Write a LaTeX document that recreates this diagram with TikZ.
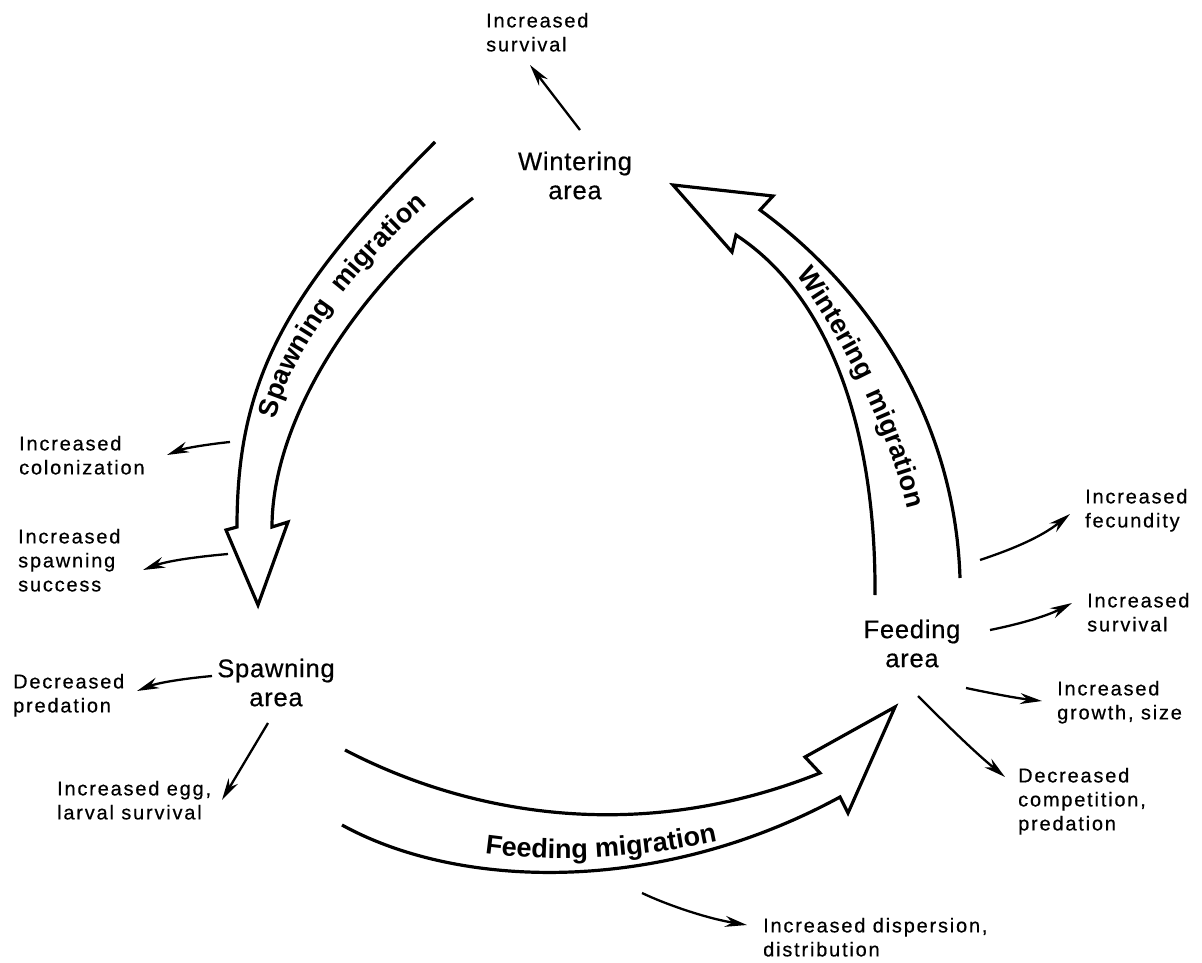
\documentclass[tikz,border=0pt]{standalone}
\usepackage{fontspec}
\setmainfont{Liberation Sans}
\newfontfamily\lblfont{Liberation Sans}[LetterSpace=9,FakeBold=0.5]
\newfontfamily\areafont{Liberation Sans}[LetterSpace=3,FakeBold=0.5]
\newfontfamily\migfont{Liberation Sans}
\newcommand\migstyle{\migfont\bfseries\fontsize{27}{27}\selectfont}
\usetikzlibrary{arrows.meta,decorations.text}
\tikzset{
  lbl/.style={font=\lblfont\fontsize{20}{24}\selectfont, align=left, inner sep=0pt, anchor=north west},
  area/.style={font=\areafont\fontsize{25.5}{29}\selectfont, align=center, inner sep=0pt, anchor=north},
  bigarrow/.style={line width=3.2pt, line join=miter, miter limit=20},
  effect/.style={line width=2.3pt, -{Stealth[length=22pt,width=11pt]}}
}
\begin{document}
\begin{tikzpicture}[x=1pt,y=-1pt]
\useasboundingbox (0,0) rectangle (1202,963);
\fill[white] (0,0) rectangle (1202,963);

% area labels
\node[area] (wa) at (575,151.5) {Wintering\\area};
\node[area] (sa) at (276,658.5) {Spawning\\area};
\node[area] (fa) at (912,619.5) {Feeding\\area};

% effect labels
\node[lbl] (tSurvTop) at (486,12.7) {Increased\\survival};
\node[lbl] (tCol) at (19,435.7) {Increased\\colonization};
\node[lbl] (tSucc) at (18,528.7) {Increased\\spawning\\success};
\node[lbl] (tPred) at (13,673.7) {Decreased\\predation};
\node[lbl] (tEgg) at (57,780.7) {Increased egg,\\larval survival};
\node[lbl] (tDisp) at (763,917.7) {Increased dispersion,\\distribution};
\node[lbl] (tFec) at (1085,488.7) {Increased\\fecundity};
\node[lbl] (tSurv) at (1087,592.7) {Increased\\survival};
\node[lbl] (tGrow) at (1057,680.7) {Increased\\growth, size};
\node[lbl] (tComp) at (1018,767.7) {Decreased\\competition,\\predation};

% big migration arrows
\draw[bigarrow] (435,142) .. controls (285,292) and (237,380) .. (237,527)
  -- (226,530) -- (258,605) -- (288,522) -- (272,527)
  .. controls (272,423) and (352,291) .. (473,198);
\draw[bigarrow] (960,578) .. controls (955,420) and (870,290) .. (760,210)
  -- (773,196) -- (673,185) -- (732,252) -- (736,235)
  .. controls (835,300) and (876,440) .. (875,595);
\draw[bigarrow] (345,750) .. controls (470,815) and (640,845) .. (820,773)
  -- (805,757) -- (895,707) -- (848,813) -- (840,797)
  .. controls (660,895) and (460,890) .. (342,825);

% migration labels
\path[decorate, decoration={text along path, text align={left indent=13pt},
  text={|\migstyle|Spawning{\kern16pt}migration}}]
  (273,432) .. controls (283,360) and (356,262.6) .. (450,185);
\path[decorate, decoration={text along path, text align={left indent=14pt},
  text={|\migstyle|Wintering{\kern14pt}migration}}]
  (788,263) .. controls (853,349) and (910.5,477) .. (916,560);
\path[decorate, decoration={text along path, text align={left indent=15pt},
  text={|\migstyle|Feeding migration}}]
  (470,851) .. controls (540,863) and (640,863) .. (760,831);

% effect arrows
\coordinate (w1) at (580,130); \coordinate (w1e) at (530,65);
\draw[effect] (w1) -- (w1e);
\coordinate (c1) at (230,442); \coordinate (c1e) at (167,455);
\draw[effect] (c1) .. controls (210,444) and (185,448) .. (c1e);
\coordinate (s1) at (228,554); \coordinate (s1e) at (143,570);
\draw[effect] (s1) .. controls (205,556) and (170,560) .. (s1e);
\coordinate (p1) at (212,676); \coordinate (p1e) at (137,691);
\draw[effect] (p1) .. controls (190,678) and (160,682) .. (p1e);
\coordinate (e1) at (268,723); \coordinate (e1e) at (222,800);
\draw[effect] (e1) -- (e1e);
\coordinate (f1) at (980,560); \coordinate (f1e) at (1070,514);
\draw[effect] (f1) .. controls (1010,550) and (1040,538) .. (f1e);
\coordinate (r1) at (990,630); \coordinate (r1e) at (1072,603);
\draw[effect] (r1) .. controls (1015,625) and (1045,617) .. (r1e);
\coordinate (g1) at (966,688); \coordinate (g1e) at (1042,701);
\draw[effect] (g1) .. controls (990,693) and (1015,698) .. (g1e);
\coordinate (k1) at (918,696); \coordinate (k1e) at (1005,777);
\draw[effect] (k1) .. controls (940,718) and (972,750) .. (k1e);
\coordinate (d1) at (642,893); \coordinate (d1e) at (747,925);
\draw[effect] (d1) .. controls (665,904) and (705,918) .. (d1e);
\end{tikzpicture}
\end{document}
